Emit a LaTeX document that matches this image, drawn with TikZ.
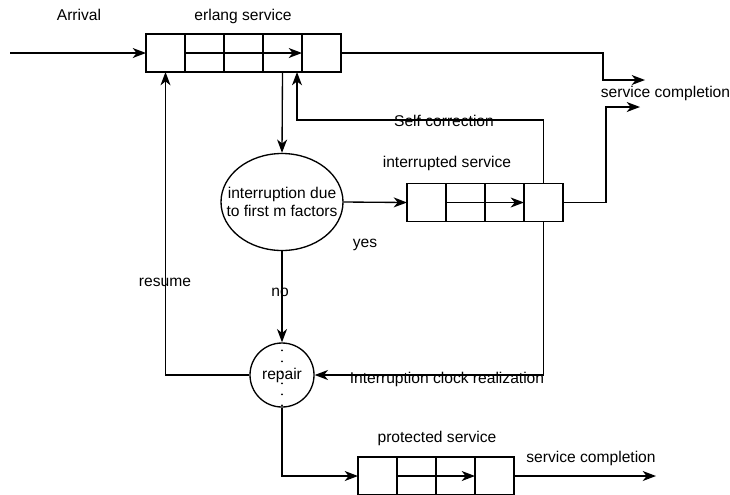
\documentclass[tikz,border=0pt]{standalone}
\usepackage{fontspec}
\setmainfont{Liberation Sans}
\usetikzlibrary{arrows.meta,shapes.geometric,calc}
\tikzset{
  arr/.style={draw, line width=1pt, -{Stealth[length=10pt,width=7.5pt,inset=3pt]}},
  cell/.style={draw, line width=1pt, rectangle, minimum width=29.25pt, minimum height=28.5pt, inner sep=0pt, outer sep=0pt},
  lbl/.style={inner sep=0pt, text height=0.72em, text depth=0pt, font=\fontsize{11.7pt}{14pt}\selectfont},
}
\begin{document}
\begin{tikzpicture}[x=0.75pt,y=-0.75pt]
\useasboundingbox (0,0) rectangle (730,494);

% erlang service queue
\node[cell] (e1) at (165.5,53) {};
\node[cell] (e2) at (204.5,53) {};
\node[cell] (e3) at (243.5,53) {};
\node[cell] (e4) at (282.5,53) {};
\node[cell] (e5) at (321.5,53) {};
\draw[arr] (e2.west) -- (e5.west);

% interrupted service queue
\node[cell] (i1) at (426.5,202.5) {};
\node[cell] (i2) at (465.5,202.5) {};
\node[cell] (i3) at (504.5,202.5) {};
\node[cell] (i4) at (543.5,202.5) {};
\draw[arr] (i2.west) -- (i4.west);

% protected service queue
\node[cell] (p1) at (377.5,476) {};
\node[cell] (p2) at (416.5,476) {};
\node[cell] (p3) at (455.5,476) {};
\node[cell] (p4) at (494.5,476) {};
\draw[arr] (p2.west) -- (p4.west);

% decision and repair
\node[draw, line width=1pt, ellipse, minimum width=91.5pt, minimum height=72.75pt, inner sep=0pt] (ell) at (282,202) {};
\node[align=center, inner sep=0pt, font=\fontsize{11.7pt}{13pt}\selectfont] (elltxt) at (ell.center)
      {interruption due\\to first m factors};
\node[draw, line width=1pt, circle, minimum size=48pt, inner sep=0pt] (rep) at (282,375) {};
\draw[line width=1.6pt, line cap=round, dash pattern=on 0pt off 8.25pt]
  ($(rep.north)+(0,8)$) -- (rep.south);
\node[lbl] (replbl) at (rep.center) {repair};

% free ends
\coordinate (ain) at (10,53);
\coordinate (eout) at (645,80);
\coordinate (iout) at (640,107);
\coordinate (pout) at (656,476);
\coordinate (sc) at (297,120);

% connectors
\draw[arr] (ain) -- (e1.west);
\draw[arr] (e5.east) -- ++(262,0) |- (eout);
\draw[arr] (e4.south) -- (ell.north);
\draw[arr] (ell.east) -- (i1.west);
\draw[arr] (i4.east) -- ++(43,0) |- (iout);
\draw[arr] (i4.north) |- (sc) -- (sc |- e4.south);
\draw[arr] (ell.south) -- (rep.north);
\draw[arr] (rep.west) -| (e1.south);
\draw[arr] (i4.south) |- (rep.east);
\draw[arr] (rep.south) |- (p1.west);
\draw[arr] (p4.east) -- (pout);

% labels
\node[lbl] (tarr) at (79,16) {Arrival};
\node[lbl] (terl) at (243,16) {erlang service};
\node[lbl] (tsc1) at (665.5,93) {service completion};
\node[lbl] (tself) at (444,122) {Self correction};
\node[lbl] (tint) at (447,163) {interrupted service};
\node[lbl] (tyes) at (365,243) {yes};
\node[lbl] (tres) at (165,282) {resume};
\node[lbl] (tno) at (280,292) {no};
\node[lbl] (tclk) at (447,379) {Interruption clock realization};
\node[lbl] (tpro) at (437,438) {protected service};
\node[lbl] (tsc2) at (591,458) {service completion};
\end{tikzpicture}
\end{document}
